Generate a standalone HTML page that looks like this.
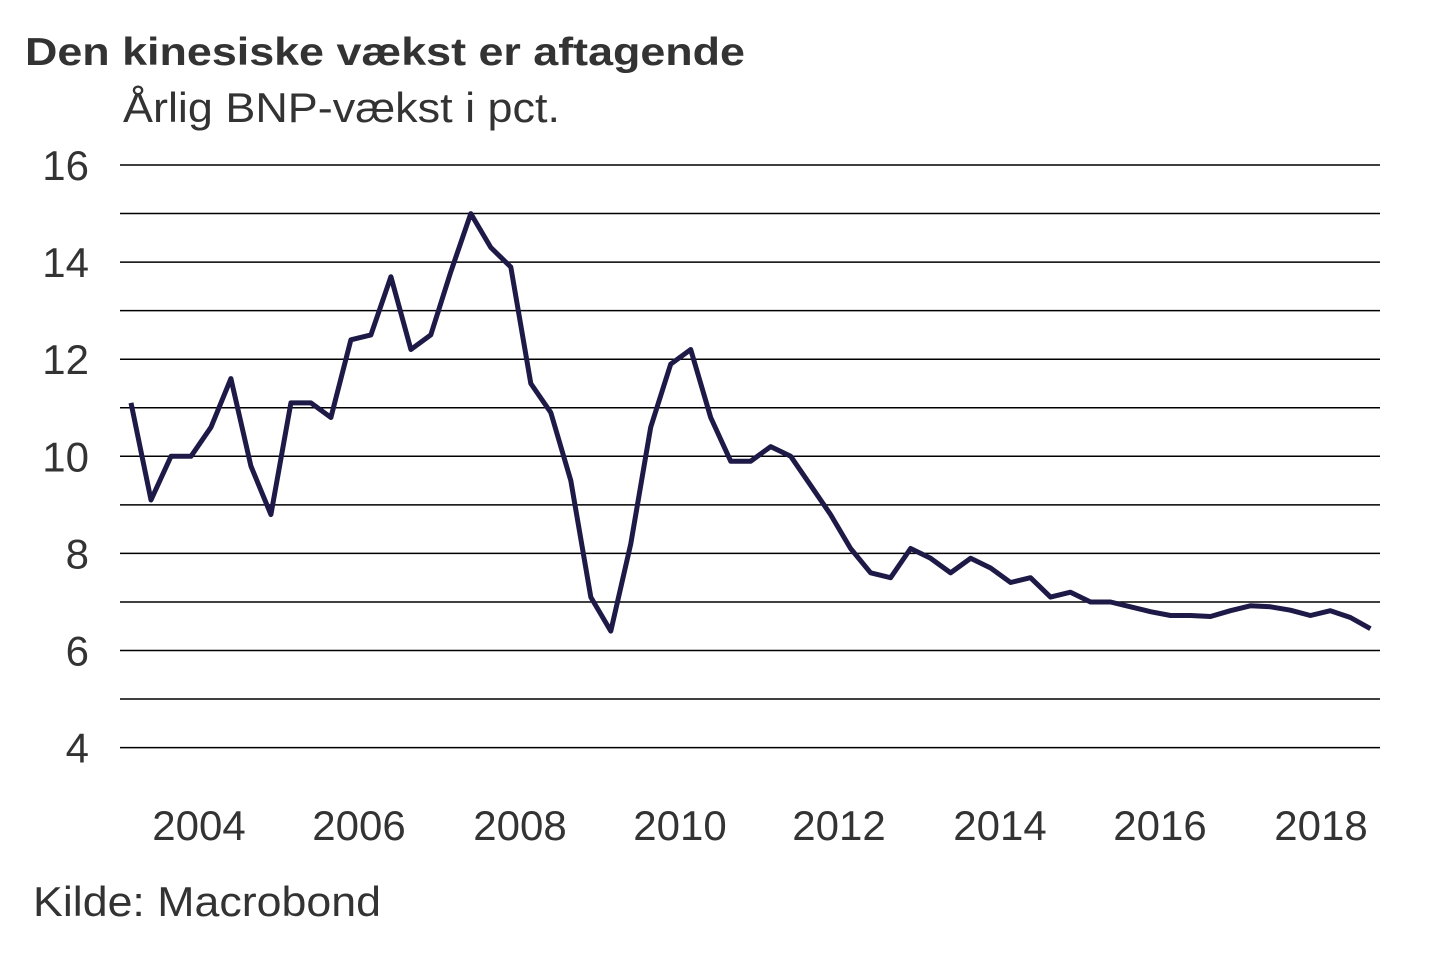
<!DOCTYPE html>
<html><head><meta charset="utf-8"><style>
body{margin:0;background:#fff;width:1440px;height:960px;overflow:hidden}
svg text{font-family:"Liberation Sans",sans-serif;fill:#333}
</style></head><body>
<svg id="s" width="1440" height="960" xmlns="http://www.w3.org/2000/svg">
<text x="25" y="65" font-size="39" font-weight="bold" textLength="720" lengthAdjust="spacingAndGlyphs">Den kinesiske vækst er aftagende</text>
<text x="123" y="122" font-size="42" textLength="437" lengthAdjust="spacingAndGlyphs">Årlig BNP-vækst i pct.</text>
<g id="grid" stroke="#000" stroke-width="1.5"></g>
<g id="yl" font-size="42" text-anchor="end"></g>
<g font-size="42" text-anchor="middle">
<text x="199" y="840">2004</text><text x="359" y="840">2006</text><text x="520" y="840">2008</text><text x="680" y="840">2010</text>
<text x="839" y="840">2012</text><text x="1000" y="840">2014</text><text x="1160" y="840">2016</text><text x="1321" y="840">2018</text>
</g>
<text x="33" y="916" font-size="42" textLength="348" lengthAdjust="spacingAndGlyphs">Kilde: Macrobond</text>
<polyline id="ln" fill="none" stroke="#1e1a48" stroke-width="5" stroke-linejoin="round"/>
</svg>
<script>
var Y=function(v){return 165+(16-v)*48.55};
var g=document.getElementById('grid'),yl=document.getElementById('yl'),ns='http://www.w3.org/2000/svg';
for(var v=4;v<=16;v++){var l=document.createElementNS(ns,'line');l.setAttribute('x1',120);l.setAttribute('x2',1380);l.setAttribute('y1',Y(v));l.setAttribute('y2',Y(v));g.appendChild(l);
if(v%2==0){var t=document.createElementNS(ns,'text');t.setAttribute('x',89);t.setAttribute('y',Y(v)+15);t.textContent=v;yl.appendChild(t);}}
var d=[11.1,9.1,10,10,10.6,11.6,9.8,8.8,11.1,11.1,10.8,12.4,12.5,13.7,12.2,12.5,13.8,15.0,14.3,13.9,11.5,10.9,9.5,7.1,6.4,8.2,10.6,11.9,12.2,10.8,9.9,9.9,10.2,10.0,9.4,8.8,8.1,7.6,7.5,8.1,7.9,7.6,7.9,7.7,7.4,7.5,7.1,7.2,7.0,7.0,6.9,6.8,6.72,6.72,6.7,6.82,6.92,6.9,6.83,6.72,6.82,6.68,6.45];
var p=d.map(function(v,i){return (131+i*19.99).toFixed(1)+','+Y(v).toFixed(1)}).join(' ');
document.getElementById('ln').setAttribute('points',p);
</script>
</body></html>
